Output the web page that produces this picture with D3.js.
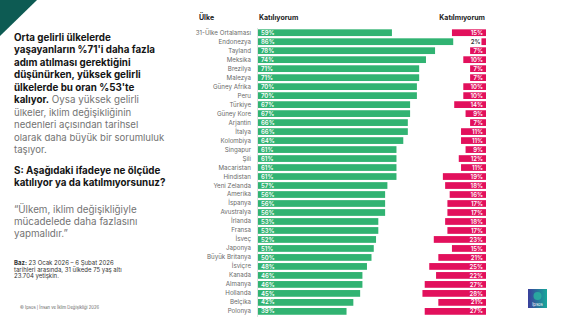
<!DOCTYPE html>
<html><head><meta charset="utf-8">
<script src="https://cdn.jsdelivr.net/npm/d3@7"></script>
<style>
html,body{margin:0;padding:0;background:#fff;}
svg{display:block;font-family:Inter, "Noto Sans", sans-serif;}
</style></head>
<body>
<svg id="c" width="574" height="323"></svg>
<script>
const categories = ["31-Ülke Ortalaması","Endonezya","Tayland","Meksika","Brezilya","Malezya","Güney Afrika","Peru","Türkiye","Güney Kore","Arjantin","İtalya","Kolombiya","Singapur","Şili","Macaristan","Hindistan","Yeni Zelanda","Amerika","İspanya","Avustralya","İrlanda","Fransa","İsveç","Japonya","Büyük Britanya","İsviçre","Kanada","Almanya","Hollanda","Belçika","Polonya"];
const agree = [59,86,78,74,71,71,70,70,67,67,66,66,64,61,61,61,61,57,56,56,56,53,53,52,51,50,48,46,46,45,42,39];
const disagree = [15,2,7,10,7,7,10,10,14,9,7,11,11,9,12,11,19,18,16,17,17,18,17,23,15,21,25,22,27,28,21,27];
const headers = {cat:"Ülke", agree:"Katılıyorum", disagree:"Katılmıyorum"};

const svg = d3.select("#c");
const GREEN = "#31b372", PINK = "#e2105c";

// corner triangle
svg.append("path").attr("d","M0,0 L37,0 L0,36 Z").attr("fill","#0d5b53");

// left text block
const L = svg.append("g").attr("transform","translate(14,0)");
const boldLines = ["Orta gelirli ülkelerde","yaşayanların %71'i daha fazla","adım atılması gerektiğini","düşünürken, yüksek gelirli","ülkelerde bu oran %53'te"];
boldLines.forEach((t,i)=>{
  L.append("text").attr("x",0).attr("y",40.5+i*12.5).attr("font-size",9.8).attr("font-weight",700).attr("fill","#151515").text(t);
});
const l6 = L.append("text").attr("x",0).attr("y",40.5+5*12.5).attr("font-size",9.8);
l6.append("tspan").attr("font-weight",700).attr("fill","#151515").text("kalıyor.");
l6.append("tspan").attr("fill","#737373").text(" Oysa yüksek gelirli");
["ülkeler, iklim değişikliğinin","nedenleri açısından tarihsel","olarak daha büyük bir sorumluluk","taşıyor."].forEach((t,i)=>{
  L.append("text").attr("x",0).attr("y",116+i*12.3).attr("font-size",9.6).attr("fill","#737373").text(t);
});
["S: Aşağıdaki ifadeye ne ölçüde","katılıyor ya da katılmıyorsunuz?"].forEach((t,i)=>{
  L.append("text").attr("x",0).attr("y",173.5+i*12.5).attr("font-size",9.8).attr("font-weight",700).attr("fill","#151515").text(t);
});
["“Ülkem, iklim değişikliğiyle","mücadelede daha fazlasını","yapmalıdır.”"].forEach((t,i)=>{
  L.append("text").attr("x",0).attr("y",212.5+i*12).attr("font-size",9.8).attr("fill","#737373").text(t);
});
const b1 = L.append("text").attr("x",0).attr("y",265).attr("font-size",6).attr("fill","#333");
b1.append("tspan").attr("font-weight",700).text("Baz:");
b1.append("tspan").text(" 23 Ocak 2026 – 6 Şubat 2026");
L.append("text").attr("x",0).attr("y",271.5).attr("font-size",6).attr("fill","#333").text("tarihleri arasında, 31 ülkede 75 yaş altı");
L.append("text").attr("x",0).attr("y",278).attr("font-size",6).attr("fill","#333").text("23.704 yetişkin.");
svg.append("text").attr("x",20).attr("y",309).attr("font-size",4.2).attr("fill","#666").text("© Ipsos | İnsan ve İklim Değişikliği 2026");

// scales
const y = d3.scaleBand().domain(categories).range([28.2, 28.2+32*8.99]).paddingInner(0.25).paddingOuter(0.125);
const xA = d3.scaleLinear().domain([0,100]).range([258, 485]);
const xD = d3.scaleLinear().domain([0,100]).range([0, 227]);
const right = 486;

// headers
svg.append("text").attr("x",199).attr("y",20).attr("font-size",7).attr("font-weight",700).attr("fill","#222").text(headers.cat);
svg.append("text").attr("x",259).attr("y",20).attr("font-size",7).attr("font-weight",700).attr("fill","#222").text(headers.agree);
svg.append("text").attr("x",485).attr("y",20).attr("text-anchor","end").attr("font-size",7).attr("font-weight",700).attr("fill","#222").text(headers.disagree);

// category axis
const ax = svg.append("g").attr("transform","translate(251,0)").call(d3.axisLeft(y).tickSize(0).tickPadding(0));
ax.select(".domain").remove();
ax.selectAll("text").attr("font-size",6.2).attr("fill","#6a6a6a").attr("font-family","Inter, sans-serif");

// baseline
svg.append("line").attr("x1",257.5).attr("x2",257.5).attr("y1",28).attr("y2",317).attr("stroke","#e2e2e2").attr("stroke-width",1);

// agree bars
const gA = svg.append("g");
gA.selectAll("rect").data(categories).join("rect")
  .attr("x",xA(0)).attr("y",d=>y(d)).attr("height",y.bandwidth())
  .attr("width",(d,i)=>xA(agree[i])-xA(0)).attr("fill",GREEN);
gA.selectAll("text").data(categories).join("text")
  .attr("x",xA(0)+3).attr("y",d=>y(d)+y.bandwidth()/2).attr("dy","0.35em")
  .attr("font-size",6).attr("font-weight",600).attr("fill","#fff").text((d,i)=>agree[i]+"%");

// disagree bars
const gD = svg.append("g");
gD.selectAll("rect").data(categories).join("rect")
  .attr("x",(d,i)=>right-xD(disagree[i])).attr("y",d=>y(d)).attr("height",y.bandwidth())
  .attr("width",(d,i)=>xD(disagree[i])).attr("fill",PINK);
gD.selectAll("text").data(categories).join("text")
  .attr("x",(d,i)=> disagree[i] < 5 ? right-xD(disagree[i])-1 : right-3)
  .attr("y",d=>y(d)+y.bandwidth()/2).attr("dy","0.35em").attr("text-anchor","end")
  .attr("font-size",6).attr("font-weight",600)
  .attr("fill",(d,i)=> disagree[i] < 5 ? "#333" : "#fff").text((d,i)=>disagree[i]+"%");

// logo
const defs = svg.append("defs");
const lg = defs.append("linearGradient").attr("id","lg").attr("x1","0").attr("y1","0").attr("x2","1").attr("y2","0");
lg.append("stop").attr("offset","0").attr("stop-color","#3a3f9c");
lg.append("stop").attr("offset","1").attr("stop-color","#17a89a");
svg.append("rect").attr("x",528).attr("y",289).attr("width",19).attr("height",19).attr("fill","url(#lg)");
svg.append("circle").attr("cx",537.5).attr("cy",296).attr("r",4).attr("fill","#2bb5a0").attr("opacity",0.8);
svg.append("text").attr("x",537.5).attr("y",305.5).attr("text-anchor","middle").attr("font-size",4.2).attr("fill","#fff").text("Ipsos");
</script>
</body></html>
